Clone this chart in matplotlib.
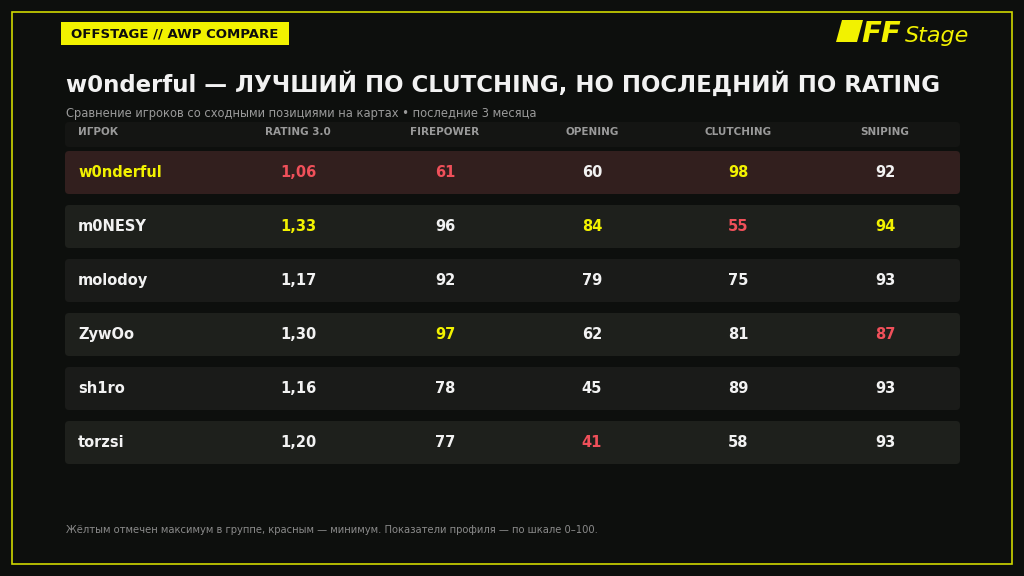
import numpy as np
import matplotlib.pyplot as plt
from matplotlib.patches import FancyBboxPatch, Rectangle, Polygon

plt.rcParams['font.family'] = ['DejaVu Sans']

# Data
players = ["w0nderful", "m0NESY", "molodoy", "ZywOo", "sh1ro", "torzsi"]
columns = ["RATING 3.0", "FIREPOWER", "OPENING", "CLUTCHING", "SNIPING"]
rating = [1.06, 1.33, 1.17, 1.30, 1.16, 1.20]
firepower = [61, 96, 92, 97, 78, 77]
opening = [60, 84, 79, 62, 45, 41]
clutching = [98, 55, 75, 81, 89, 58]
sniping = [92, 94, 93, 87, 93, 93]
focus_player = "w0nderful"

title = "w0nderful — ЛУЧШИЙ ПО CLUTCHING, НО ПОСЛЕДНИЙ ПО RATING"
subtitle = "Сравнение игроков со сходными позициями на картах • последние 3 месяца"
footer = "Жёлтым отмечен максимум в группе, красным — минимум. Показатели профиля — по шкале 0–100."
tag = "OFFSTAGE // AWP COMPARE"

# Colors
BG = "#0d0f0d"
YELLOW = "#f2f200"
RED = "#f0505a"
WHITE = "#f2f2f2"
GRAY = "#9a9a9a"
HEADER_BG = "#141513"
FOCUS_BG = "#321f1e"
ROW_BG = ["#1e201c", "#1a1b19"]

fig = plt.figure(figsize=(10.24, 5.76), dpi=100, facecolor=BG)
ax = fig.add_axes([0, 0, 1, 1])
ax.set_xlim(0, 1024)
ax.set_ylim(576, 0)
ax.axis("off")
ax.set_facecolor(BG)

# Frame
ax.add_patch(Rectangle((12, 12), 1000, 552, fill=False, edgecolor="#cfd800", lw=1.2))

# Tag
ax.add_patch(Rectangle((61, 22), 228, 23, facecolor=YELLOW, edgecolor="none"))
ax.text(175, 34, tag, ha="center", va="center", fontsize=9.5, fontweight="bold", color="#0d0d0d")

# Logo
ax.add_patch(Polygon([(842, 20), (863, 20), (857, 42), (836, 42)], closed=True,
                     facecolor=YELLOW, edgecolor="none"))
ax.text(861, 42, "FF", ha="left", va="baseline", fontsize=21, fontweight="heavy",
        style="italic", color=YELLOW)
ax.text(905, 42, "Stage", ha="left", va="baseline", fontsize=16, style="italic",
        color=YELLOW)

# Title
ax.text(66, 84, title, ha="left", va="center", fontsize=16.5, fontweight="bold", color=WHITE)
ax.text(66, 113, subtitle, ha="left", va="center", fontsize=8.3, color=GRAY)

# Table
col_x = [298, 445, 592, 738, 885]
left, right = 65, 960
ax.add_patch(FancyBboxPatch((left, 122), right - left, 25,
                            boxstyle="round,pad=0,rounding_size=4",
                            facecolor=HEADER_BG, edgecolor="none"))
ax.text(78, 132, "ИГРОК", ha="left", va="center", fontsize=7.5, fontweight="bold", color=GRAY)
for cx, name in zip(col_x, columns):
    ax.text(cx, 132, name, ha="center", va="center", fontsize=7.5, fontweight="bold", color=GRAY)

values = [rating, firepower, opening, clutching, sniping]
row_top0, pitch, row_h = 151, 54, 43
for i, p in enumerate(players):
    top = row_top0 + i * pitch
    cy = top + row_h / 2
    if p == focus_player:
        bg = FOCUS_BG
    else:
        bg = ROW_BG[(i - 1) % 2]
    ax.add_patch(FancyBboxPatch((left, top), right - left, row_h,
                                boxstyle="round,pad=0,rounding_size=4",
                                facecolor=bg, edgecolor="none"))
    ax.text(78, cy, p, ha="left", va="center", fontsize=10.5, fontweight="bold",
            color=YELLOW if p == focus_player else WHITE)
    for j, (cx, vals) in enumerate(zip(col_x, values)):
        v = vals[i]
        if v == max(vals):
            c = YELLOW
        elif v == min(vals):
            c = RED
        else:
            c = WHITE
        s = f"{v:.2f}".replace(".", ",") if j == 0 else f"{v}"
        ax.text(cx, cy, s, ha="center", va="center", fontsize=10.5, fontweight="bold", color=c)

# Footer
ax.text(66, 530, footer, ha="left", va="center", fontsize=7.2, color="#8a8a8a")

fig.savefig("out.png", dpi=100, facecolor=BG)
